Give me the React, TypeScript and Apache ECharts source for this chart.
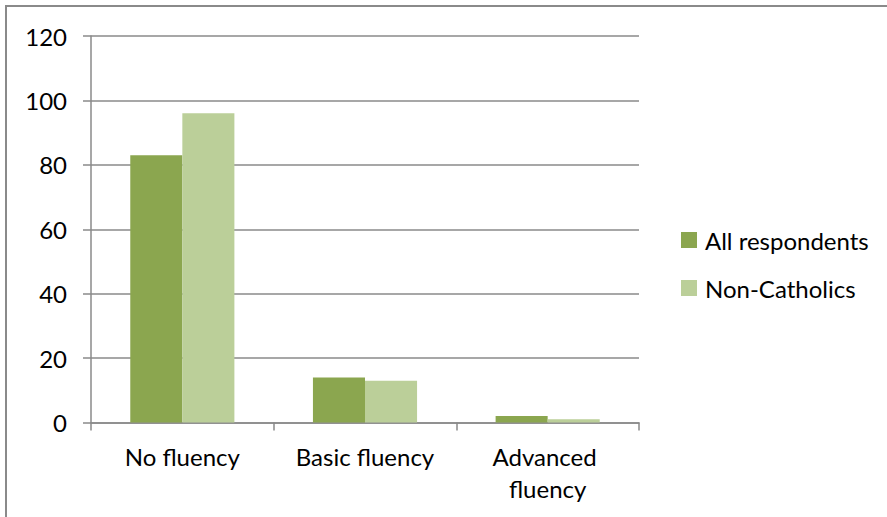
import React, { useEffect, useRef } from "react";
import * as echarts from "echarts";

const categories = ["No fluency", "Basic fluency", "Advanced fluency"];
const allRespondents = [83, 14, 2];
const nonCatholics = [96, 13, 1];
const seriesNames = ["All respondents", "Non-Catholics"];
const yTicks = { min: 0, max: 120, interval: 20 };

const FONT = "Lato";
const AXIS = "#8a8a8a";
const FS = 24;

export default function App() {
  const ref = useRef<HTMLDivElement>(null);
  useEffect(() => {
    if (!ref.current) return;
    const chart = echarts.init(ref.current, undefined, { renderer: "svg" });
    chart.setOption({
      animation: false,
      backgroundColor: "#ffffff",
      textStyle: { fontFamily: FONT },
      graphic: [
        {
          type: "rect",
          shape: { x: 6, y: 6, width: 1000, height: 1000 },
          style: { fill: "none", stroke: AXIS, lineWidth: 2 },
          silent: true,
        },
      ],
      grid: { left: 91, top: 36, width: 548, height: 386.5, containLabel: false },
      legend: {
        orient: "vertical",
        left: 676,
        top: 223,
        itemWidth: 16,
        itemHeight: 16,
        itemGap: 24,
        icon: "rect",
        textStyle: { fontSize: FS, color: "#000", fontFamily: FONT, padding: [0, 0, 0, 3], lineHeight: 24 },
        data: seriesNames,
      },
      xAxis: {
        type: "category",
        data: categories,
        axisLine: { lineStyle: { color: AXIS, width: 1.5 } },
        axisTick: { show: true, length: 8, alignWithLabel: false, lineStyle: { color: AXIS, width: 1.5 } },
        axisLabel: {
          color: "#000",
          fontSize: FS,
          fontFamily: FONT,
          margin: 18,
          lineHeight: 32,
          width: 160,
          overflow: "break",
          interval: 0,
        },
      },
      yAxis: {
        type: "value",
        min: yTicks.min,
        max: yTicks.max,
        interval: yTicks.interval,
        axisLine: { show: true, lineStyle: { color: AXIS, width: 1.5 } },
        axisTick: { show: true, length: 8, lineStyle: { color: AXIS, width: 1.5 } },
        splitLine: { show: true, lineStyle: { color: AXIS, width: 1.5 } },
        axisLabel: { color: "#000", fontSize: FS, fontFamily: FONT, margin: 24 },
      },
      series: [
        {
          name: seriesNames[0],
          type: "bar",
          data: allRespondents,
          itemStyle: { color: "#8ba64f" },
          barGap: "0%",
          barCategoryGap: "43%",
        },
        {
          name: seriesNames[1],
          type: "bar",
          data: nonCatholics,
          itemStyle: { color: "#bbcf99" },
          barGap: "0%",
          barCategoryGap: "43%",
        },
      ],
    });
    return () => chart.dispose();
  }, []);
  return (
    <div
      ref={ref}
      style={{ position: "fixed", left: 0, top: 0, width: 887, height: 517 }}
    />
  );
}
